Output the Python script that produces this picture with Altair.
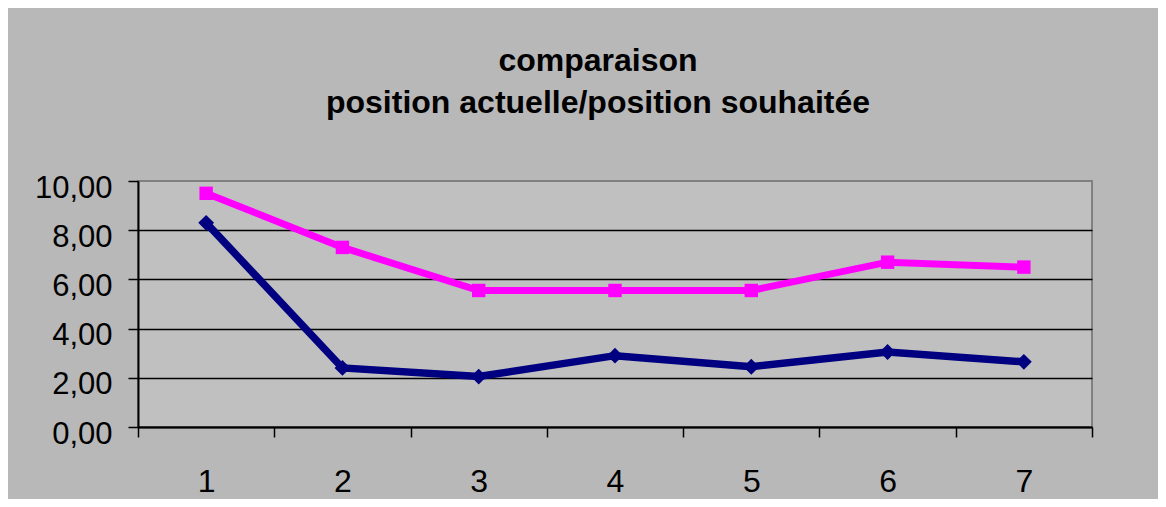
import altair as alt
import pandas as pd

categories = [1, 2, 3, 4, 5, 6, 7]
actuelle = [8.3, 2.4, 2.05, 2.9, 2.45, 3.05, 2.65]
souhaitee = [9.5, 7.3, 5.55, 5.55, 5.55, 6.7, 6.5]
y_ticks = [0, 2, 4, 6, 8, 10]

df = pd.DataFrame({
    "cat": categories + categories,
    "val": actuelle + souhaitee,
    "serie": ["actuelle"] * len(actuelle) + ["souhaitee"] * len(souhaitee),
})

FONT = "Liberation Sans"

x = alt.X(
    "cat:O",
    scale=alt.Scale(type="band", paddingInner=0, paddingOuter=0),
    axis=alt.Axis(
        title=None, labelAngle=0, tickBand="extent", grid=False,
        domainColor="black", domainWidth=2, tickColor="black", tickWidth=1.5,
        tickSize=10, labelFont=FONT, labelFontSize=32, labelColor="black",
        labelPadding=29,
    ),
)
y = alt.Y(
    "val:Q",
    scale=alt.Scale(domain=[0, 10], nice=False),
    axis=alt.Axis(
        title=None, values=y_ticks,
        labelExpr="replace(format(datum.value, '.2f'), '.', ',')",
        grid=True, gridColor="black", gridWidth=1.3,
        gridOpacity={"condition": {"test": "datum.value === 10", "value": 0}, "value": 1},
        domainColor="black", domainWidth=2, tickColor="black", tickWidth=1.5,
        tickSize=10, labelFont=FONT, labelFontSize=31, labelColor="black",
        labelPadding=16, labelOffset=7,
    ),
)

base = alt.Chart(df)

navy = "#000080"
mag = "#ff00ff"

l1 = base.transform_filter("datum.serie === 'actuelle'").mark_line(color=navy, strokeWidth=7.5).encode(x=x, y=y)
p1 = base.transform_filter("datum.serie === 'actuelle'").mark_point(shape="diamond", filled=True, color=navy, size=250, opacity=1).encode(x=x, y=y)
l2 = base.transform_filter("datum.serie === 'souhaitee'").mark_line(color=mag, strokeWidth=7).encode(x=x, y=y)
p2 = base.transform_filter("datum.serie === 'souhaitee'").mark_point(shape="square", filled=True, color=mag, size=180, opacity=1).encode(x=x, y=y)

chart = alt.layer(l1, p1, l2, p2).properties(
    width=954,
    height=246,
    background="#b8b8b8",
    padding={"left": 130, "top": 173, "right": 66, "bottom": 72},
    autosize=alt.AutoSizeParams(type="none"),
    title=alt.TitleParams(
        ["comparaison", "position actuelle/position souhaitée"],
        font=FONT, fontSize=32, fontWeight="bold", color="black",
        lineHeight=42, anchor="middle", dx=-17, offset=20, baseline="bottom",
    ),
).configure_view(fill="#c0c0c0", stroke="#808080", strokeWidth=2)

chart.save("out.html", embed_options={"renderer": "svg", "actions": False})
